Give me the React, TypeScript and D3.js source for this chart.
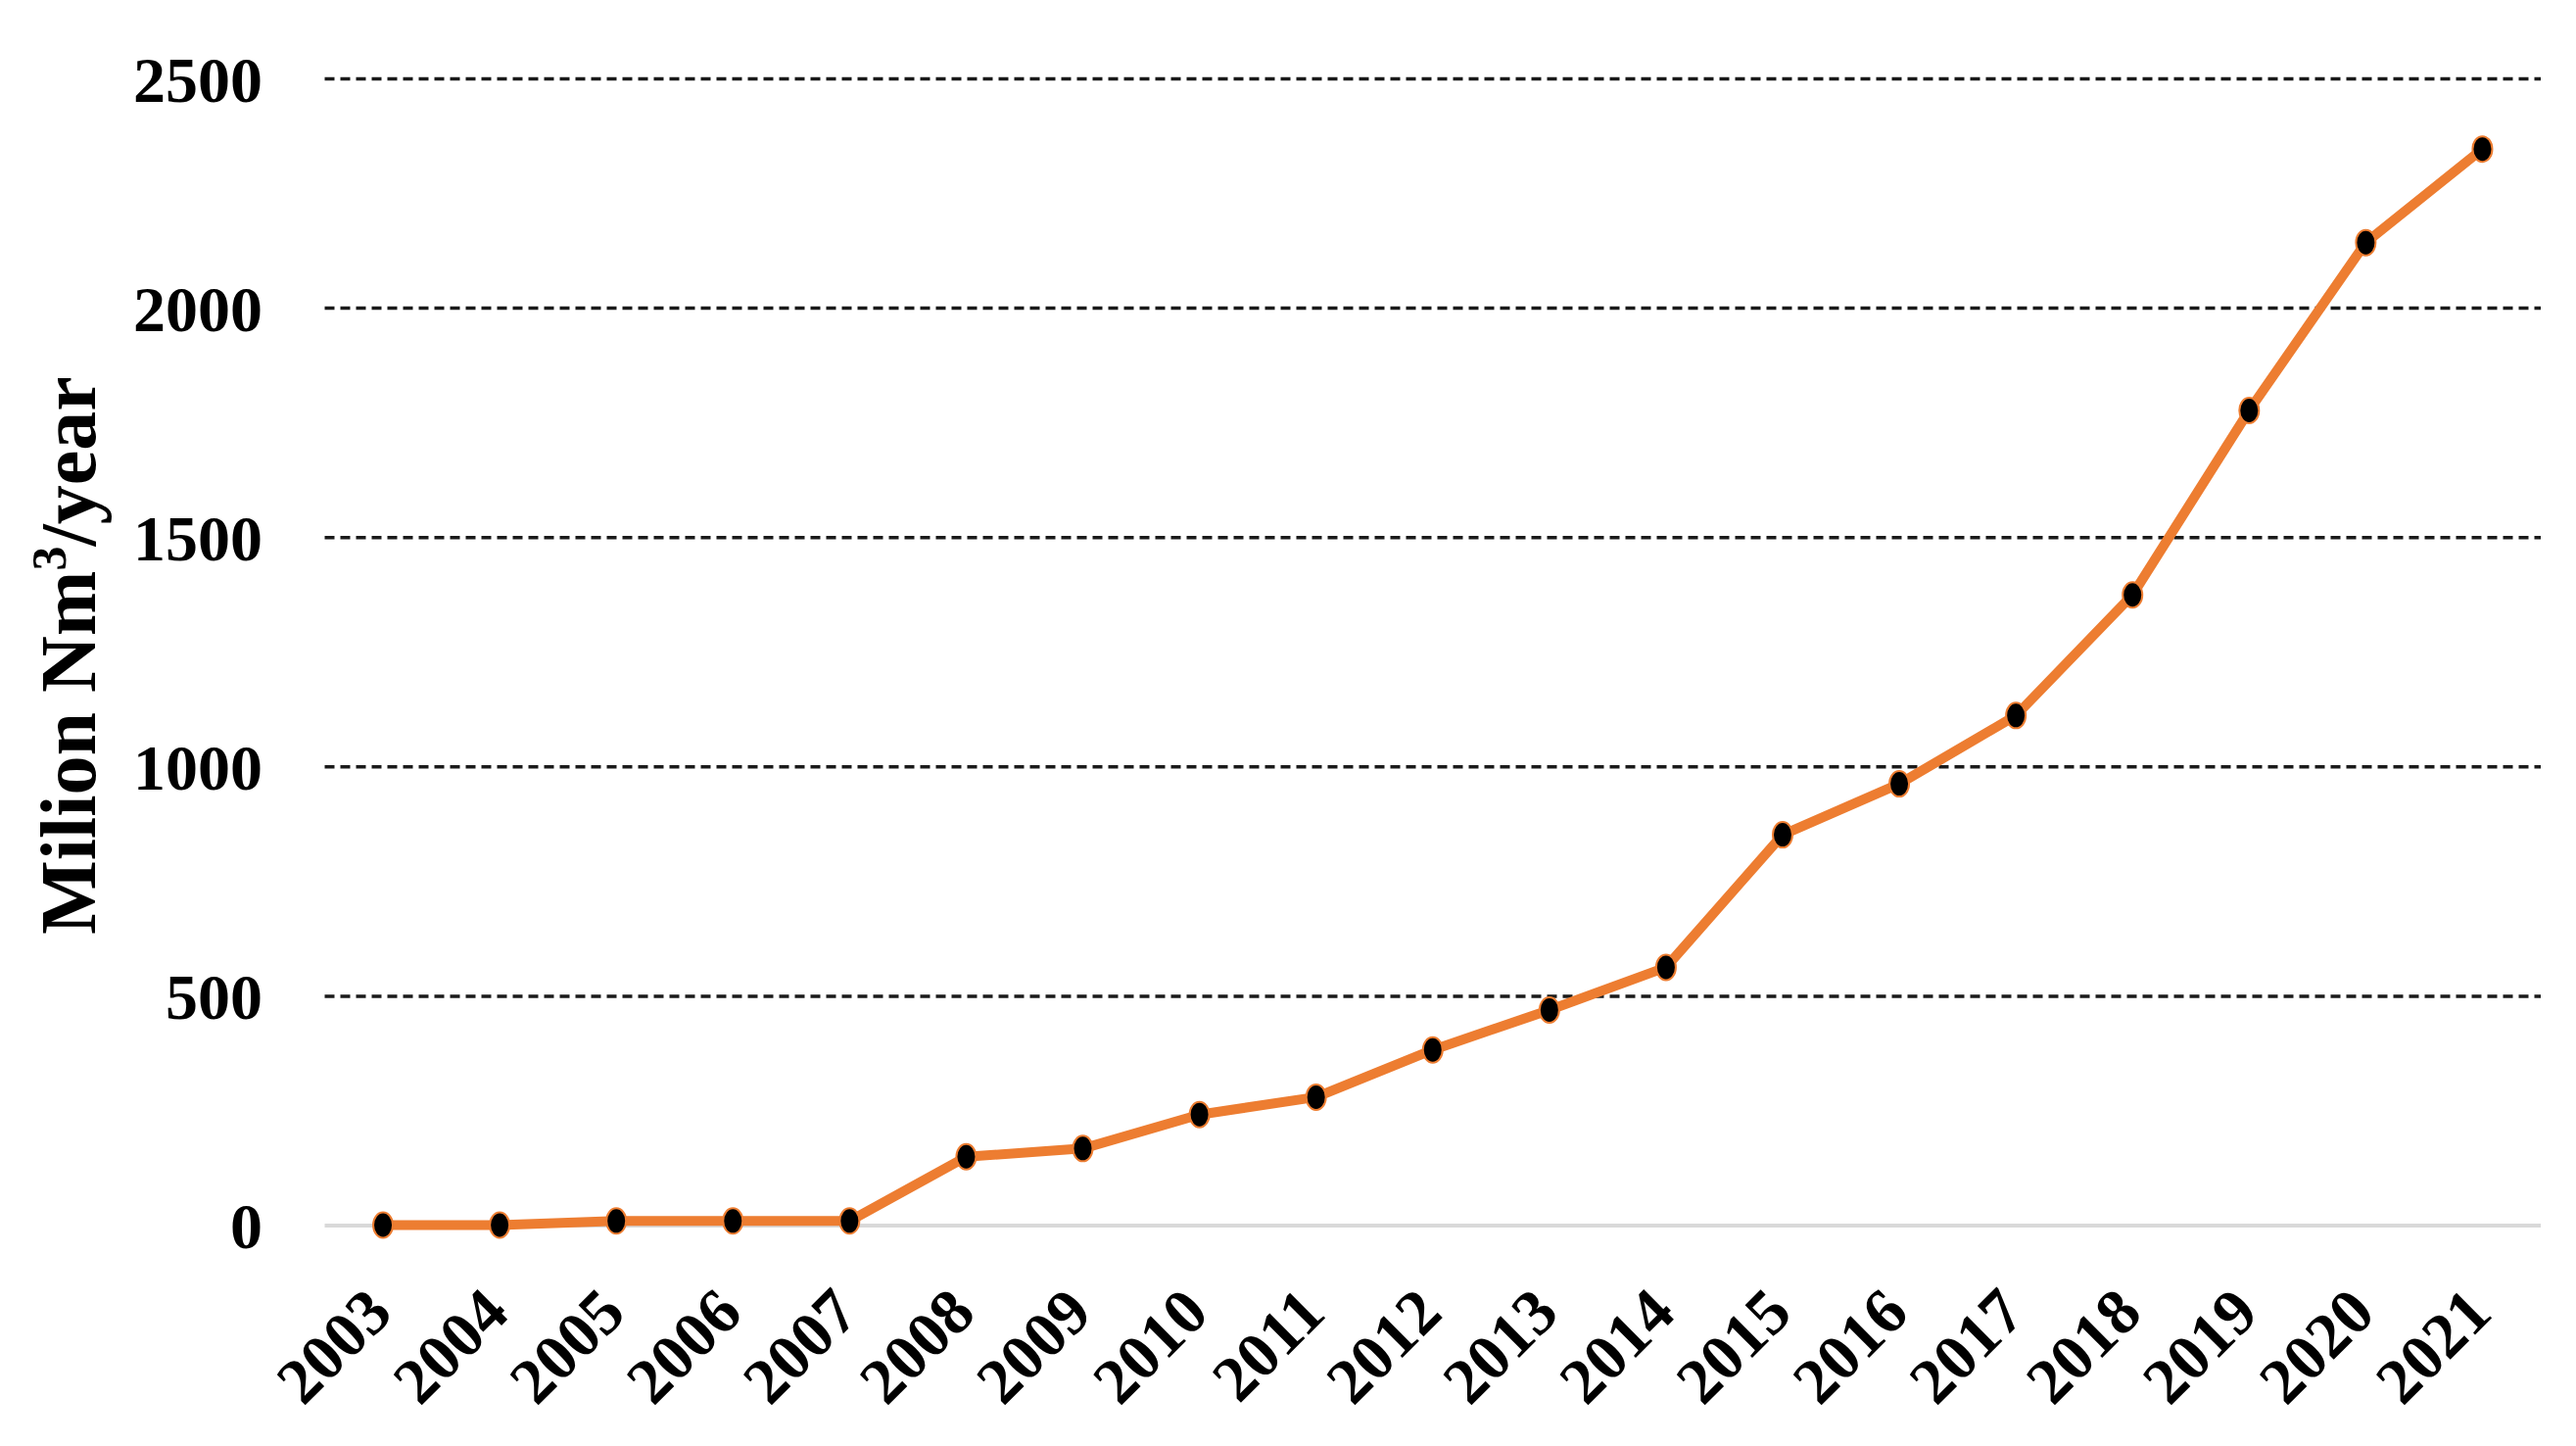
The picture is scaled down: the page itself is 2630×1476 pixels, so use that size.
import React, { useEffect } from "react";
import * as d3 from "d3";

const years = ["2003","2004","2005","2006","2007","2008","2009","2010","2011","2012","2013","2014","2015","2016","2017","2018","2019","2020","2021"];
const production = [1, 1, 10, 10, 10, 150, 168, 242, 280, 383, 470, 563, 852, 963, 1112, 1375, 1777, 2143, 2347];
const yTicks = [0, 500, 1000, 1500, 2000, 2500];
const yTitleMain = "Milion Nm";
const yTitleSup = "3";
const yTitleEnd = "/year";

const W = 2630;
const H = 1476;
const FONT = "'Liberation Serif', 'Times New Roman', serif";

export default function App() {
  useEffect(() => {
    document.body.style.margin = "0";
  }, []);

  const x = d3.scaleBand<string>().domain(years).range([331.5, 2594]).padding(0);
  const y = d3.scaleLinear().domain([0, 2500]).range([1251, 80.5]);
  const cx = (yr: string) => (x(yr) as number) + x.bandwidth() / 2;

  const pts = years.map((yr, i) => ({ yr, v: production[i] }));
  const line = d3
    .line<{ yr: string; v: number }>()
    .x((d) => cx(d.yr))
    .y((d) => y(d.v));

  const [x0, x1] = x.range();

  return (
    <svg width={W} height={H} style={{ display: "block", background: "#fff" }} fontFamily={FONT}>
      <rect x={0} y={0} width={W} height={H} fill="#fff" />
      {yTicks.map((t) =>
        t === 0 ? (
          <line key={t} x1={x0} x2={x1} y1={y(t)} y2={y(t)} stroke="#d9d9d9" strokeWidth={4} />
        ) : (
          <line key={t} x1={x0} x2={x1} y1={y(t)} y2={y(t)} stroke="#1a1a1a" strokeWidth={3.5} strokeDasharray="10,6" />
        )
      )}
      {yTicks.map((t) => (
        <text key={"l" + t} x={268} y={y(t)} dy="0.35em" textAnchor="end" fontSize={66} fontWeight="bold" fill="#000">
          {t}
        </text>
      ))}
      {years.map((yr) => (
        <text
          key={"x" + yr}
          transform={`translate(${cx(yr) + 12},${1343}) rotate(-45)`}
          textAnchor="end"
          fontSize={66}
          fontWeight="bold"
          fill="#000"
        >
          {yr}
        </text>
      ))}
      <text transform={`translate(97,669) rotate(-90)`} textAnchor="middle" fontSize={80} fontWeight="bold" fill="#000">
        {yTitleMain}
        <tspan dy={-30} fontSize={50}>{yTitleSup}</tspan>
        <tspan dy={30}>{yTitleEnd}</tspan>
      </text>
      <path d={line(pts) || ""} fill="none" stroke="#ED7D31" strokeWidth={10} strokeLinejoin="round" />
      {pts.map((d) => (
        <ellipse key={"m" + d.yr} cx={cx(d.yr)} cy={y(d.v)} rx={10} ry={13} fill="#000" stroke="#ED7D31" strokeWidth={2} />
      ))}
    </svg>
  );
}
